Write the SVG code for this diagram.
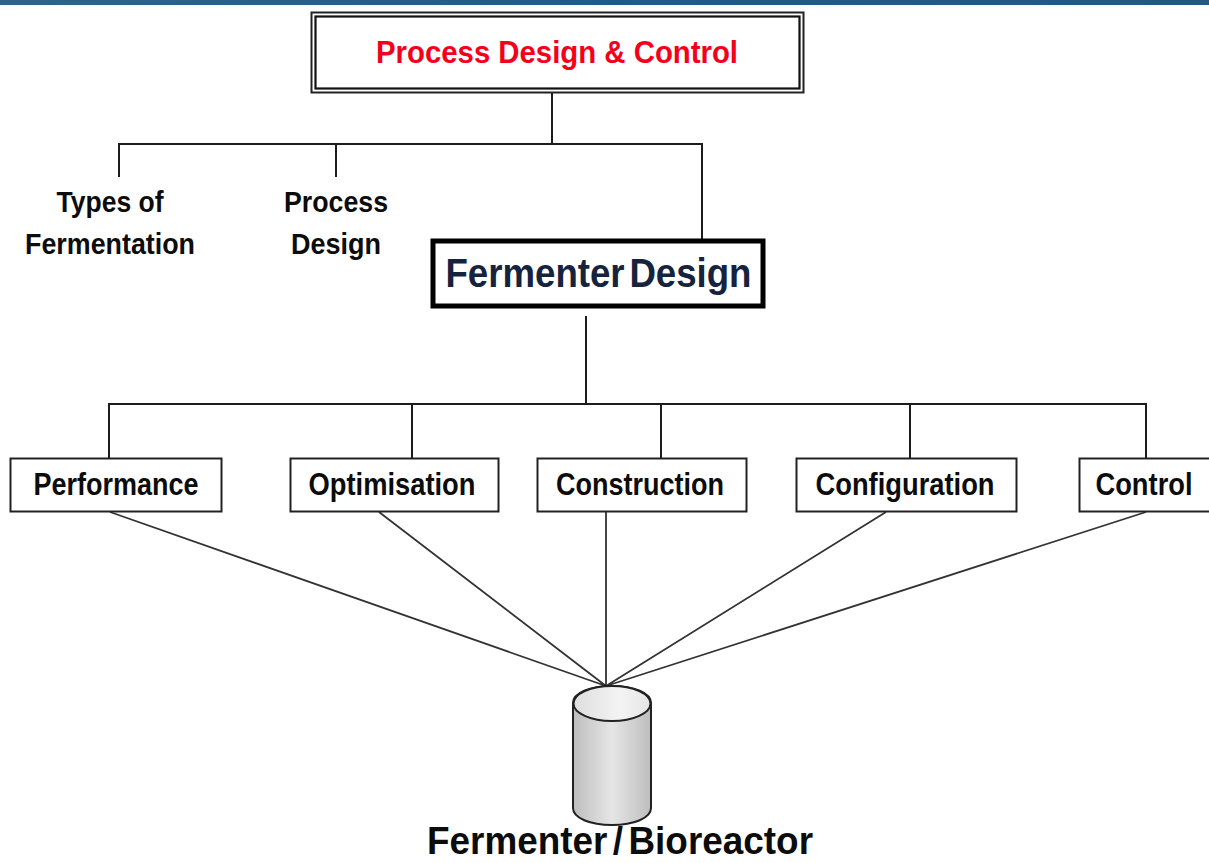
<svg xmlns="http://www.w3.org/2000/svg" width="1209" height="863" viewBox="0 0 1209 863">
<style>
text{font-family:"Liberation Sans",Arial,sans-serif;font-weight:bold;text-anchor:middle;fill:#0c0c0c}
.c{fill:none;stroke:#1c1c1c;stroke-width:2}
.d{fill:none;stroke:#333;stroke-width:1.8}
.b{fill:#fff;stroke:#222;stroke-width:2}
.l{font-size:30px}
.m{font-size:30.5px}
</style>
<defs>
<linearGradient id="bar" x1="0" x2="1" y1="0" y2="0"><stop offset="0" stop-color="#2f6485"/><stop offset=".5" stop-color="#1f5b8a"/><stop offset="1" stop-color="#24587e"/></linearGradient>
<linearGradient id="side" x1="0" x2="1" y1="0" y2="0"><stop offset="0" stop-color="#bdbdbd"/><stop offset=".5" stop-color="#e6e6e6"/><stop offset="1" stop-color="#bdbdbd"/></linearGradient>
<linearGradient id="top" x1="0" x2="1" y1="0" y2="0"><stop offset="0" stop-color="#dedede"/><stop offset=".6" stop-color="#f3f3f3"/><stop offset="1" stop-color="#e6e6e6"/></linearGradient>
</defs>
<rect width="1209" height="863" fill="#fff"/>
<rect id="topbar" width="1209" height="5" fill="url(#bar)"/>
<g id="connectors">
<path class="c" d="M552 90V144M119 177V144H702V239M336 144V177"/>
<path class="c" d="M586 316V404M109 459V404H1146V459M412 404V459M661 404V459M910 404V459"/>
<path class="d" d="M110 512L606 686M379 512L606 686M606 512V686M886 512L606 686M1146 512L606 686"/>
</g>
<g id="process-design-control">
<rect x="311.500" y="12.500" width="492" height="80" fill="#fff" stroke="#222" stroke-width="2"/>
<rect x="315.500" y="16.500" width="484" height="72" fill="none" stroke="#111" stroke-width="2.200"/>
<text x="557" y="63" font-size="32" textLength="362" lengthAdjust="spacingAndGlyphs" style="fill:#f5001a">Process Design &amp; Control</text>
</g>
<g id="types-of-fermentation">
<text class="l" x="110" y="212" textLength="107" lengthAdjust="spacingAndGlyphs">Types of</text>
<text class="l" x="110" y="254" textLength="170" lengthAdjust="spacingAndGlyphs">Fermentation</text>
</g>
<g id="process-design">
<text class="l" x="336" y="212" textLength="104" lengthAdjust="spacingAndGlyphs">Process</text>
<text class="l" x="336" y="254" textLength="90" lengthAdjust="spacingAndGlyphs">Design</text>
</g>
<g id="fermenter-design">
<rect x="433" y="241" width="330" height="65" fill="#fff" stroke="#000" stroke-width="5"/>
<text x="598.500" y="287" font-size="41" word-spacing="-6" textLength="306" lengthAdjust="spacingAndGlyphs" style="fill:#15233f">Fermenter Design</text>
</g>
<g id="performance"><rect class="b" x="10.500" y="458.500" width="211" height="53"/><text class="m" x="116" y="495" textLength="165" lengthAdjust="spacingAndGlyphs">Performance</text></g>
<g id="optimisation"><rect class="b" x="290.500" y="458.500" width="208" height="53"/><text class="m" x="392" y="495" textLength="167" lengthAdjust="spacingAndGlyphs">Optimisation</text></g>
<g id="construction"><rect class="b" x="537.500" y="458.500" width="209" height="53"/><text class="m" x="640" y="495" textLength="168" lengthAdjust="spacingAndGlyphs">Construction</text></g>
<g id="configuration"><rect class="b" x="796.500" y="458.500" width="220" height="53"/><text class="m" x="905" y="495" textLength="179" lengthAdjust="spacingAndGlyphs">Configuration</text></g>
<g id="control"><rect class="b" x="1079.500" y="458.500" width="131" height="53"/><text class="m" x="1144" y="495" textLength="97" lengthAdjust="spacingAndGlyphs">Control</text></g>
<g id="fermenter-bioreactor">
<path d="M573 703V808C573 818 590 825 612 825S651 818 651 808V703C651 693 634 686 612 686S573 693 573 703Z" fill="url(#side)" stroke="#222" stroke-width="2"/>
<ellipse cx="612" cy="703.500" rx="38.500" ry="17.500" fill="url(#top)" stroke="#222" stroke-width="2"/>
<text x="620" y="854" font-size="38" word-spacing="-5" textLength="386" lengthAdjust="spacingAndGlyphs">Fermenter / Bioreactor</text>
</g>
</svg>
